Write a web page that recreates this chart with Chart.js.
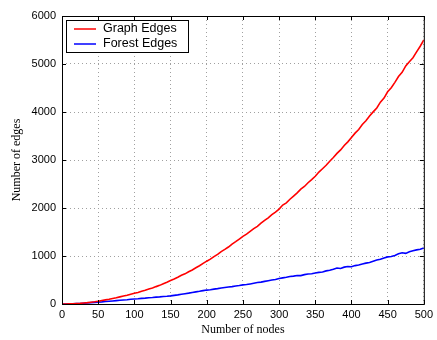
<!DOCTYPE html>
<html>
<head>
<meta charset="utf-8">
<script src="https://cdn.jsdelivr.net/npm/chart.js@4/dist/chart.umd.min.js"></script>
<style>
    html, body { margin: 0; padding: 0; background: #fff; }
    #wrap { width: 437px; height: 340px; position: relative; }
</style>
</head>
<body>
<div id="wrap"><canvas id="edgesChart"></canvas></div>
<script>
const nodes = [0, 5, 10, 15, 20, 25, 30, 35, 40, 45, 50, 55, 60, 65, 70, 75, 80, 85, 90, 95,
    100, 105, 110, 115, 120, 125, 130, 135, 140, 145, 150, 155, 160, 165, 170, 175, 180, 185, 190, 195,
    200, 205, 210, 215, 220, 225, 230, 235, 240, 245, 250, 255, 260, 265, 270, 275, 280, 285, 290, 295,
    300, 305, 310, 315, 320, 325, 330, 335, 340, 345, 350, 355, 360, 365, 370, 375, 380, 385, 390, 395,
    400, 405, 410, 415, 420, 425, 430, 435, 440, 445, 450, 455, 460, 465, 470, 475, 480, 485, 490, 495, 500];

const graphEdges = [0, 1, 3, 6, 10, 14, 21, 28, 37, 47, 59, 72, 86, 98, 116, 131, 149, 168, 184, 205,
    224, 241, 266, 285, 312, 334, 362, 388, 421, 452, 488, 520, 556, 597, 628, 672, 709, 755, 797, 846,
    892, 935, 988, 1034, 1092, 1138, 1187, 1249, 1298, 1352, 1408, 1455, 1512, 1570, 1618, 1684, 1742, 1795, 1862, 1915,
    1978, 2062, 2108, 2182, 2248, 2315, 2392, 2448, 2526, 2590, 2662, 2748, 2818, 2890, 2974, 3052, 3138, 3210, 3302, 3378,
    3468, 3560, 3636, 3738, 3818, 3915, 4002, 4085, 4205, 4290, 4422, 4505, 4618, 4740, 4826, 4960, 5048, 5130, 5252, 5370, 5500];

const forestEdges = [0, 1, 3, 5, 8, 12, 17, 22, 28, 34, 40, 45, 52, 58, 64, 71, 77, 84, 90, 98,
    104, 110, 118, 123, 131, 136, 144, 149, 157, 162, 170, 180, 190, 203, 214, 226, 240, 252, 264, 278,
    290, 298, 310, 320, 332, 343, 355, 362, 375, 384, 398, 405, 418, 432, 447, 456, 472, 486, 500, 512,
    533, 545, 556, 572, 580, 594, 592, 612, 624, 630, 645, 658, 668, 690, 702, 725, 750, 740, 768, 782,
    776, 800, 812, 835, 852, 866, 890, 915, 932, 960, 982, 990, 1012, 1045, 1068, 1055, 1090, 1110, 1128, 1142, 1168];

const seriesLabels = ['Graph Edges', 'Forest Edges'];
const seriesColors = ['#ff0000', '#0000ff'];
const xTicks = [0, 50, 100, 150, 200, 250, 300, 350, 400, 450, 500];
const yTicks = [0, 1000, 2000, 3000, 4000, 5000, 6000];

const toPoints = (ys) => nodes.map((n, i) => ({ x: n, y: ys[i] }));

// box, inward ticks and the legend drawn by hand like the matlab figure
const framePlugin = {
    id: 'frame',
    afterDatasetsDraw(chart) {
        const { ctx, chartArea: a, scales } = chart;
        ctx.save();
        ctx.strokeStyle = '#000';
        ctx.lineWidth = 1;
        ctx.strokeRect(a.left + 0.5, a.top + 0.5, a.right - a.left, a.bottom - a.top);
        ctx.beginPath();
        xTicks.forEach((v) => {
            const px = Math.round(scales.x.getPixelForValue(v)) + 0.5;
            ctx.moveTo(px, a.bottom); ctx.lineTo(px, a.bottom - 4);
            ctx.moveTo(px, a.top); ctx.lineTo(px, a.top + 4);
        });
        yTicks.forEach((v) => {
            const py = Math.round(scales.y.getPixelForValue(v)) + 0.5;
            ctx.moveTo(a.left, py); ctx.lineTo(a.left + 4, py);
            ctx.moveTo(a.right, py); ctx.lineTo(a.right - 4, py);
        });
        ctx.stroke();

        const lx = a.left + 4, ly = a.top + 4, lw = 122, lh = 32;
        ctx.fillStyle = '#fff';
        ctx.fillRect(lx, ly, lw, lh);
        ctx.strokeStyle = '#000';
        ctx.strokeRect(lx + 0.5, ly + 0.5, lw, lh);
        ctx.font = '12.5px "Liberation Sans", Arial, sans-serif';
        ctx.textBaseline = 'middle';
        seriesLabels.forEach((label, i) => {
            const y = ly + 9 + i * 15;
            ctx.strokeStyle = seriesColors[i];
            ctx.lineWidth = 1.5;
            ctx.beginPath();
            ctx.moveTo(lx + 8, y); ctx.lineTo(lx + 30, y);
            ctx.stroke();
            ctx.fillStyle = '#000';
            ctx.fillText(label, lx + 37, y);
        });
        ctx.restore();
    }
};

const gridStyle = { color: '#a0a0a0', drawTicks: false, lineWidth: 1 };
const borderStyle = { display: false, dash: [1, 3] };
const tickFont = { family: '"Liberation Sans", Arial, sans-serif', size: 11 };
const titleFont = { family: '"Liberation Serif", "Times New Roman", serif', size: 12 };

new Chart(document.getElementById('edgesChart'), {
    type: 'line',
    data: {
        datasets: [
            { label: seriesLabels[0], data: toPoints(graphEdges), borderColor: seriesColors[0] },
            { label: seriesLabels[1], data: toPoints(forestEdges), borderColor: seriesColors[1] }
        ].map((d) => ({ ...d, borderWidth: 1.6, pointRadius: 0, tension: 0, fill: false }))
    },
    options: {
        responsive: true,
        maintainAspectRatio: false,
        animation: false,
        layout: { padding: { top: 16, right: 10, left: 6, bottom: 0 } },
        plugins: { legend: { display: false }, tooltip: { enabled: false } },
        scales: {
            x: {
                type: 'linear',
                min: 0, max: 500,
                afterBuildTicks: (s) => { s.ticks = xTicks.map((v) => ({ value: v })); },
                afterFit: (s) => { s.height = 36; },
                grid: gridStyle,
                border: borderStyle,
                ticks: { color: '#000', padding: 4, maxRotation: 0, font: tickFont,
                    callback: (v) => String(v) },
                title: { display: true, text: 'Number of nodes', color: '#000',
                    padding: { top: 1, bottom: 3 }, font: titleFont }
            },
            y: {
                min: 0, max: 6000,
                afterBuildTicks: (s) => { s.ticks = yTicks.map((v) => ({ value: v })); },
                afterFit: (s) => { s.width = 56; },
                grid: gridStyle,
                border: borderStyle,
                ticks: { color: '#000', padding: 6, font: tickFont,
                    callback: (v) => String(v) },
                title: { display: true, text: 'Number of edges', color: '#000',
                    padding: { top: 4, bottom: 6 }, font: titleFont }
            }
        }
    },
    plugins: [framePlugin]
});
</script>
</body>
</html>
